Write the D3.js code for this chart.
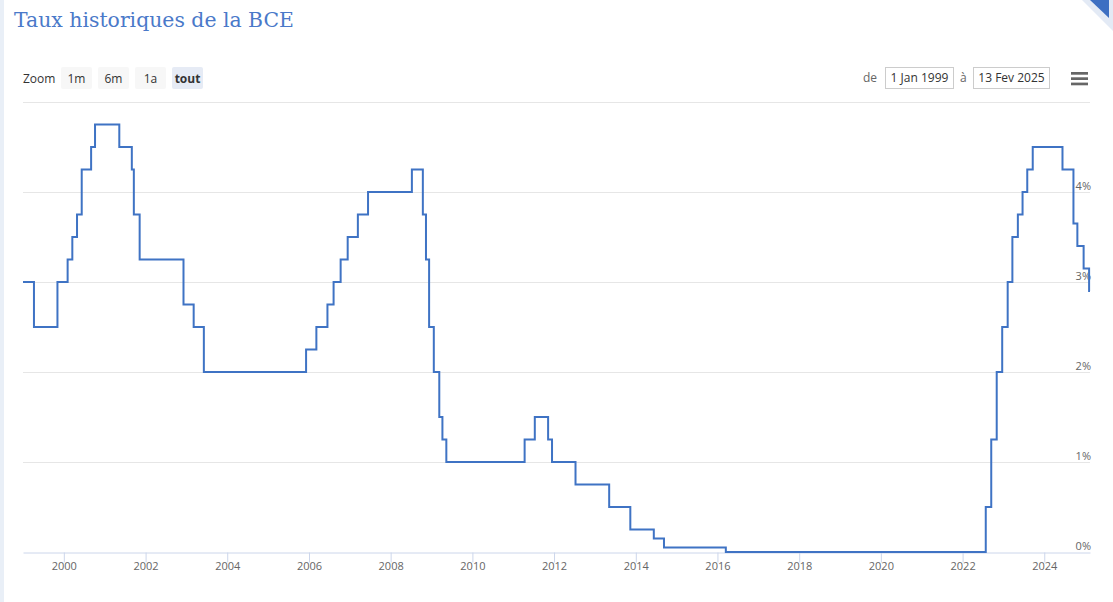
<!DOCTYPE html>
<html>
<head>
<meta charset="utf-8">
<script src="https://cdn.jsdelivr.net/npm/d3@7"></script>
<style>
    body { margin: 0; background: #fff; }
    svg { display: block; }
</style>
</head>
<body>
<div id="container"></div>
<script>
// ECB main refinancing rate, change dates and new rate (%)
const changeDates = [
    "1999-01-01", "1999-04-09", "1999-11-05", "2000-02-04", "2000-03-17", "2000-04-28",
    "2000-06-09", "2000-09-01", "2000-10-06", "2001-05-11", "2001-08-31", "2001-09-18",
    "2001-11-09", "2002-12-06", "2003-03-07", "2003-06-06", "2005-12-06", "2006-03-08",
    "2006-06-15", "2006-08-09", "2006-10-11", "2006-12-13", "2007-03-14", "2007-06-13",
    "2008-07-09", "2008-10-15", "2008-11-12", "2008-12-10", "2009-01-21", "2009-03-11",
    "2009-04-08", "2009-05-13", "2011-04-13", "2011-07-13", "2011-11-09", "2011-12-14",
    "2012-07-11", "2013-05-08", "2013-11-13", "2014-06-11", "2014-09-10", "2016-03-16",
    "2022-07-27", "2022-09-14", "2022-11-02", "2022-12-21", "2023-02-08", "2023-03-22",
    "2023-05-10", "2023-06-21", "2023-08-02", "2023-09-20", "2024-06-12", "2024-09-18",
    "2024-10-23", "2024-12-18", "2025-02-05"
]
const rates = [
    3.00, 2.50, 3.00, 3.25, 3.50, 3.75,
    4.25, 4.50, 4.75, 4.50, 4.25, 3.75,
    3.25, 2.75, 2.50, 2.00, 2.25, 2.50,
    2.75, 3.00, 3.25, 3.50, 3.75, 4.00,
    4.25, 3.75, 3.25, 2.50, 2.00, 1.50,
    1.25, 1.00, 1.25, 1.50, 1.25, 1.00,
    0.75, 0.50, 0.25, 0.15, 0.05, 0.00,
    0.50, 1.25, 2.00, 2.50, 3.00, 3.50,
    3.75, 4.00, 4.25, 4.50, 4.25, 3.65,
    3.40, 3.15, 2.90
]
const rangeStart = "1999-01-01"
const rangeEnd = "2025-02-13"
const yTicks = [0, 1, 2, 3, 4, 5]
const zoomButtons = ["1m", "6m", "1a", "tout"]

const width = 1113
const height = 602
const lineColor = "#3f73c4"
const labelFont = "'Open Sans', 'DejaVu Sans', sans-serif"

const margin = { left: 23, right: 23, top: 102, bottom: 50 }

const parse = d3.timeParse("%Y-%m-%d")
const data = changeDates.map((d, i) => ({ date: parse(d), rate: rates[i] }))
// hold the last rate until the end of the range
data.push({ date: parse(rangeEnd), rate: rates[rates.length - 1] })

const svg = d3.select("#container")
    .append("svg").attr("width", width).attr("height", height)

// page frame: light left strip + corner tab
svg.append("rect").attr("x", 0).attr("y", 0).attr("width", 4).attr("height", height).attr("fill", "#e9eff7")
svg.append("polygon").attr("points", "1082,0 1113,0 1113,31").attr("fill", "#e3eaf5")
svg.append("polygon").attr("points", "1090,0 1109,0 1109,18").attr("fill", "#3d6fc2")

// title
svg.append("text")
    .attr("x", 14).attr("y", 27)
    .attr("font-family", "'DejaVu Serif', serif")
    .attr("font-size", 20.4)
    .attr("fill", "#4a79c9")
    .text("Taux historiques de la BCE")

const x = d3.scaleTime()
    .domain([parse(rangeStart), parse(rangeEnd)])
    .range([margin.left, width - margin.right])

const y = d3.scaleLinear()
    .domain([0, 5])
    .range([height - margin.bottom, margin.top])

// grid lines
svg.append("g").selectAll("line")
    .data(yTicks.filter(t => t > 0))
    .join("line")
    .attr("x1", margin.left).attr("x2", width - margin.right)
    .attr("y1", d => y(d) + 0.5).attr("y2", d => y(d) + 0.5)
    .attr("stroke", "#e6e6e6")

// y labels on the right, just above each line
svg.append("g").selectAll("text")
    .data(yTicks.filter(t => t < 5))
    .join("text")
    .attr("x", width - margin.right + 1)
    .attr("y", d => y(d) - 2.5)
    .attr("text-anchor", "end")
    .attr("font-family", labelFont)
    .attr("font-size", 11)
    .attr("fill", "#666")
    .text(d => d + "%")

// x axis
const xAxis = d3.axisBottom(x)
    .ticks(d3.timeYear.every(2))
    .tickFormat(d3.timeFormat("%Y"))
    .tickSizeInner(10)
    .tickSizeOuter(0)
    .tickPadding(0)

const gx = svg.append("g")
    .attr("transform", `translate(0,${y(0) + 0.5})`)
    .call(xAxis)
gx.select(".domain").attr("stroke", "#ccd6eb")
gx.selectAll(".tick line").attr("stroke", "#ccd6eb")
gx.selectAll(".tick text")
    .attr("font-family", labelFont)
    .attr("font-size", 11)
    .attr("fill", "#666")

// rate line
const line = d3.line()
    .x(d => x(d.date))
    .y(d => y(d.rate))
    .curve(d3.curveStepAfter)

svg.append("path")
    .datum(data)
    .attr("d", line)
    .attr("fill", "none")
    .attr("stroke", lineColor)
    .attr("stroke-width", 2)

// range selector buttons
svg.append("text")
    .attr("x", 23).attr("y", 83)
    .attr("font-family", labelFont)
    .attr("font-size", 12)
    .attr("fill", "#333")
    .text("Zoom")

const btn = svg.append("g").selectAll("g")
    .data(zoomButtons)
    .join("g")
    .attr("transform", (d, i) => `translate(${61 + i * 37},67)`)
btn.append("rect")
    .attr("width", 31).attr("height", 22).attr("rx", 2)
    .attr("fill", d => d === "tout" ? "#e6ebf5" : "#f7f7f7")
btn.append("text")
    .attr("x", 15.5).attr("y", 16)
    .attr("text-anchor", "middle")
    .attr("font-family", labelFont)
    .attr("font-size", 12)
    .attr("font-weight", d => d === "tout" ? "bold" : "normal")
    .attr("fill", "#333")
    .text(d => d)

// date inputs
svg.append("text")
    .attr("x", 863).attr("y", 82)
    .attr("font-family", labelFont).attr("font-size", 12).attr("fill", "#666")
    .text("de")
svg.append("text")
    .attr("x", 960).attr("y", 82)
    .attr("font-family", labelFont).attr("font-size", 12).attr("fill", "#666")
    .text("à")

const inputs = [
    { x: 885, w: 69, label: "1 Jan 1999" },
    { x: 973, w: 77, label: "13 Fev 2025" }
]
const inp = svg.append("g").selectAll("g")
    .data(inputs)
    .join("g")
    .attr("transform", d => `translate(${d.x},67)`)
inp.append("rect")
    .attr("x", 0.5).attr("y", 0.5)
    .attr("width", d => d.w - 1).attr("height", 21)
    .attr("fill", "#fff").attr("stroke", "#ccc")
inp.append("text")
    .attr("x", d => d.w / 2).attr("y", 15)
    .attr("text-anchor", "middle")
    .attr("font-family", labelFont).attr("font-size", 12).attr("fill", "#333")
    .text(d => d.label)

// export menu icon
svg.append("g").selectAll("rect")
    .data([0, 1, 2])
    .join("rect")
    .attr("x", 1071).attr("y", d => 72 + d * 5.3)
    .attr("width", 17).attr("height", 2.7)
    .attr("fill", "#666")
</script>
</body>
</html>
